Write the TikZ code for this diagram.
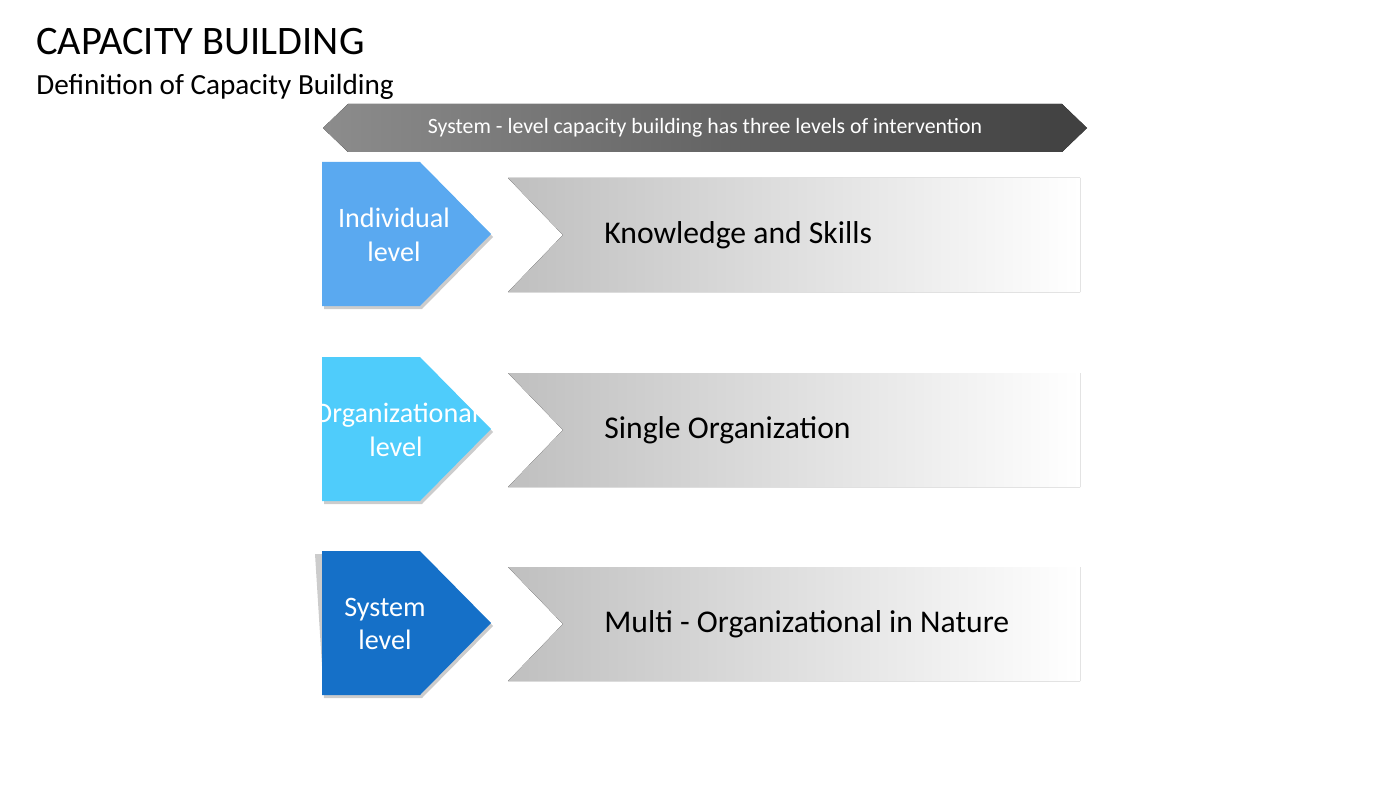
\documentclass[tikz,border=0pt]{standalone}
\usepackage{fontspec}
\setmainfont{Carlito}
\usetikzlibrary{positioning}
\definecolor{lvlA}{HTML}{5AA9F0}
\definecolor{lvlB}{HTML}{4FCCFB}
\definecolor{lvlC}{HTML}{1570C8}
\tikzset{
    levelbox/.style = {draw=none},
    bandbox/.style  = {draw=none, left color=black!25, right color=white},
    leveltext/.style = {text=white, align=center, font=\fontsize{8}{9.6}\selectfont},
    bandtext/.style  = {anchor=west, font=\fontsize{9}{11}\selectfont}
}
\begin{document}
\begin{tikzpicture}[x=0.01cm, y=-0.01cm]
    \useasboundingbox (0,0) rectangle (1400,788);
    % title
    \node[anchor=west, font=\fontsize{11.5}{13}\selectfont] (title) at (24,42) {CAPACITY BUILDING};
    \node[anchor=west, font=\fontsize{8.3}{10}\selectfont] (subtitle) at (24,87) {Definition of Capacity Building};
    % top banner
    \fill[left color=black!45, right color=black!75]
        (323,128) -- (348,104) -- (1062,104) -- (1087,128) -- (1062,152) -- (348,152) -- cycle;
    \node[text=white, font=\fontsize{6.2}{7}\selectfont] (banner) at (705,128)
        {System - level capacity building has three levels of intervention};
    % rows
    \foreach \y/\col/\lvl/\desc/\dx in {162/lvlA/{Individual\\level}/{Knowledge and Skills}/394,
                                        357/lvlB/{Organizational\\level}/{Single Organization}/396,
                                        551/lvlC/{System\\level}/{Multi - Organizational in Nature}/385} {
        \fill[black!20] (\dx-72+2,\y+3) -- (420+2,\y+3) -- (491+2,\y+75) -- (420+2,\y+147) -- (322+2,\y+147) -- cycle;
        \fill[\col] (322,\y) -- (420,\y) -- (491,\y+72) -- (420,\y+144) -- (322,\y+144) -- cycle;
        \node[leveltext] at (\dx,\y+73) {\lvl};
        \fill[bandbox] (508,\y+16) -- (1080,\y+16) -- (1080,\y+130) -- (508,\y+130) -- (563,\y+73) -- cycle;
        \node[bandtext] at (592,\y+73) {\desc};
    }
\end{tikzpicture}
\end{document}
